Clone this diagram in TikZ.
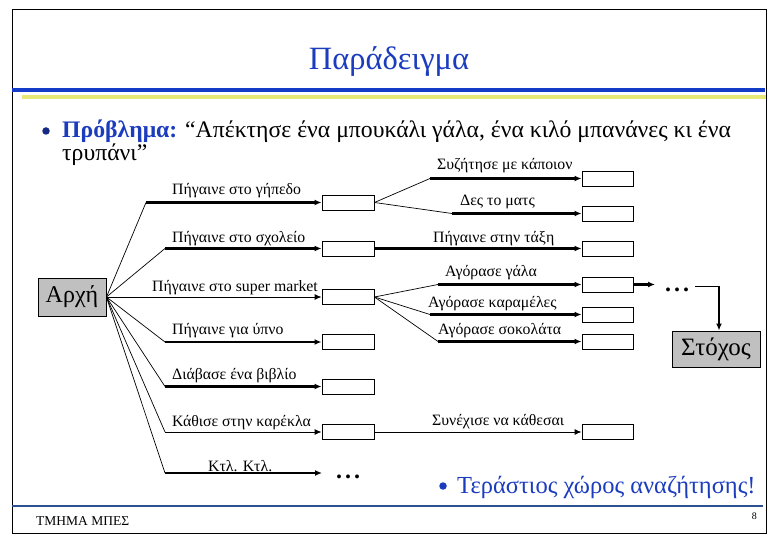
\documentclass[tikz,border=0pt]{standalone}
\usepackage{fontspec}
\setmainfont{Liberation Serif}
\usetikzlibrary{arrows.meta}
\definecolor{titleblue}{RGB}{28,60,190}
\definecolor{barblue}{RGB}{20,60,200}
\definecolor{baryellow}{RGB}{232,232,120}
\definecolor{footblue}{RGB}{45,80,145}
\definecolor{boxgray}{RGB}{192,192,192}
\begin{document}
\begin{tikzpicture}[x=1pt,y=-1pt,
  state/.style={draw, line width=0.9pt, minimum width=52pt, minimum height=15pt, inner sep=0pt},
  endbox/.style={draw, line width=0.9pt, fill=boxgray, inner sep=0pt},
  fan/.style={line width=0.7pt},
  act/.style={line width=2.3pt, -{Latex[length=7pt,width=6pt]}},
  actthin/.style={line width=0.9pt, -{Latex[length=7pt,width=6pt]}},
  lbl/.style={anchor=base west, inner sep=0pt, font=\fontsize{15.8}{18}\selectfont},
  dots/.style={anchor=base, inner sep=0pt, font=\fontsize{24}{26}\selectfont\bfseries},
  bul/.style={circle, inner sep=0pt, minimum size=7.5pt}
]
\useasboundingbox (0,0) rectangle (780,540);
% frame
\draw[line width=1pt] (12,10) rectangle (766,533);
% title
\node[font=\fontsize{32.5}{34}\selectfont, text=titleblue, inner sep=0pt] (title) at (389,62) {Παράδειγμα};
\draw[barblue, line width=4pt] (12,90) -- (765,90);
\draw[baryellow, line width=4pt] (22,97) -- (766,97);
% problem
\node[bul, fill=titleblue!70!black] (b1ul) at (46,131) {};
\node[anchor=base west, inner sep=0pt, font=\fontsize{23.7}{26}\selectfont] (prob) at (62,138)
  {\textcolor{titleblue}{\textbf{Πρόβλημα:}} “Απέκτησε ένα μπουκάλι γάλα, ένα κιλό μπανάνες κι ένα};
\node[anchor=base west, inner sep=0pt, font=\fontsize{23.7}{26}\selectfont] (prob2) at (62,161) {τρυπάνι”};
% start and goal
\node[endbox, minimum width=68pt, minimum height=38pt, font=\fontsize{24}{26}\selectfont] (start) at (72,297) {Αρχή};
\node[endbox, minimum width=88pt, minimum height=36pt, font=\fontsize{25}{27}\selectfont] (goal) at (716,349) {Στόχος};
% level 1 boxes
\node[state] (b1) at (348,202.5) {};
\node[state] (b2) at (348,248.5) {};
\node[state] (b3) at (348,297) {};
\node[state] (b4) at (348,342) {};
\node[state] (b5) at (348,386.5) {};
\node[state] (b6) at (348,432) {};
% level 2 boxes
\node[state, minimum width=51pt] (c1) at (607.5,178.5) {};
\node[state, minimum width=51pt] (c2) at (607.5,213.5) {};
\node[state, minimum width=51pt] (c3) at (607.5,248.5) {};
\node[state, minimum width=51pt] (c4) at (607.5,284.5) {};
\node[state, minimum width=51pt] (c5) at (607.5,314.5) {};
\node[state, minimum width=51pt] (c6) at (607.5,341.5) {};
\node[state, minimum width=51pt] (c7) at (607.5,432) {};
% bend points
\coordinate (k1) at (146,202.5);
\coordinate (k2) at (165,248.5);
\coordinate (k4) at (165,342);
\coordinate (k5) at (165,386.5);
\coordinate (k6) at (165,432);
\coordinate (k7) at (165,473);
\coordinate (e7) at (322,473);
\coordinate (m1) at (430,178.5);
\coordinate (m2) at (452,213.5);
\coordinate (m4) at (438,284.5);
\coordinate (m5) at (430,314.5);
\coordinate (m6) at (438,341.5);
\coordinate (e4) at (655,284.5);
\coordinate (t1) at (695,286);
\coordinate (t2) at (719,286);
% level 1 connectors
\draw[fan] (start.east) -- (k1);  \draw[act] (k1) -- (b1.west);
\draw[fan] (start.east) -- (k2);  \draw[act] (k2) -- (b2.west);
\draw[actthin] (start.east) -- (b3.west);
\draw[fan] (start.east) -- (k4);  \draw[act] (k4) -- (b4.west);
\draw[fan] (start.east) -- (k5);  \draw[act] (k5) -- (b5.west);
\draw[fan] (start.east) -- (k6);  \draw[actthin] (k6) -- (b6.west);
\draw[fan] (start.east) -- (k7);  \draw[act] (k7) -- (e7);
\node[dots] (d7) at (348,478) {.\kern3pt.\kern3pt.};
% level 2 connectors
\draw[fan] (b1.east) -- (m1);  \draw[act] (m1) -- (c1.west);
\draw[fan] (b1.east) -- (m2);  \draw[act] (m2) -- (c2.west);
\draw[act] (b2.east) -- (c3.west);
\draw[fan] (b3.east) -- (m4);  \draw[act] (m4) -- (c4.west);
\draw[fan] (b3.east) -- (m5);  \draw[act] (m5) -- (c5.west);
\draw[fan] (b3.east) -- (m6);  \draw[act] (m6) -- (c6.west);
\draw[actthin] (b6.east) -- (c7.west);
\draw[act] (c4.east) -- (e4);
\node[dots] (d4) at (677,292) {.\kern3pt.\kern3pt.};
\draw[fan] (t1) -- (t2);
\draw[act] (t2) -- (t2 |- goal.north);
% labels
\node[lbl] (l1) at (172,195) {Πήγαινε στο γήπεδο};
\node[lbl] (l2) at (172,243) {Πήγαινε στο σχολείο};
\node[lbl] (l3) at (152,292) {Πήγαινε στο super market};
\node[lbl] (l4) at (172,335) {Πήγαινε για ύπνο};
\node[lbl] (l5) at (172,380) {Διάβασε ένα βιβλίο};
\node[lbl] (l6) at (172,426) {Κάθισε στην καρέκλα};
\node[lbl] (l7) at (208,471) {Κτλ. Κτλ.};
\node[lbl] (l8) at (437,170) {Συζήτησε με κάποιον};
\node[lbl] (l9) at (460,206) {Δες το ματς};
\node[lbl] (l10) at (433,243) {Πήγαινε στην τάξη};
\node[lbl] (l11) at (445,277) {Αγόρασε γάλα};
\node[lbl] (l12) at (428,308) {Αγόρασε καραμέλες};
\node[lbl] (l13) at (438,335) {Αγόρασε σοκολάτα};
\node[lbl] (l14) at (432,425) {Συνέχισε να κάθεσαι};
% bottom bullet
\node[bul, fill=titleblue] (b2ul) at (443,486) {};
\node[anchor=base west, inner sep=0pt, font=\fontsize{24.5}{27}\selectfont, text=titleblue] (huge) at (457,493) {Τεράστιος χώρος αναζήτησης!};
% footer
\draw[footblue, line width=1.5pt] (12,506) -- (763,506);
\node[anchor=base west, inner sep=0pt, font=\fontsize{13.5}{15}\selectfont] (foot) at (36,525) {ΤΜΗΜΑ ΜΠΕΣ};
\node[anchor=base east, inner sep=0pt, font=\fontsize{10}{12}\selectfont] (pg) at (757,519) {8};
\end{tikzpicture}
\end{document}
